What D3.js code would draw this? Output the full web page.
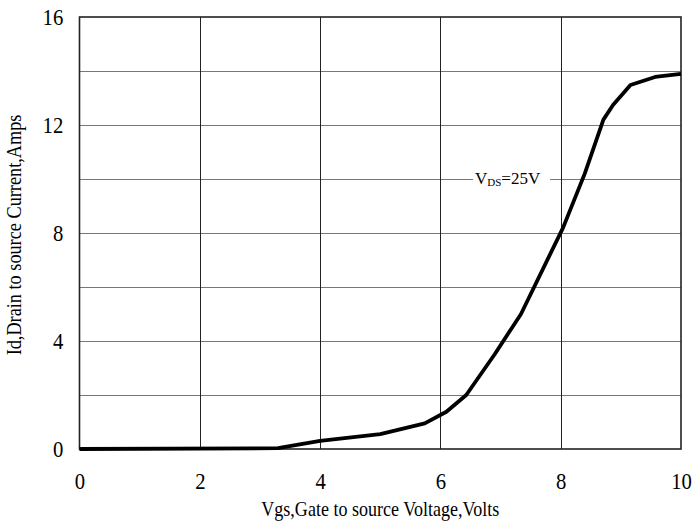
<!DOCTYPE html>
<html><head><meta charset="utf-8">
<script src="https://cdn.jsdelivr.net/npm/d3@7"></script>
<style>body{margin:0;background:#fff}svg{display:block}text{font-family:"Liberation Serif","Times New Roman",serif;fill:#000}</style>
</head><body><svg id="c" width="696" height="524"></svg>
<script>
const vgs = [0, 3.3, 4, 5, 5.74, 6.1, 6.43, 6.9, 7.34, 8.04, 8.4, 8.71, 8.87, 9.16, 9.57, 10];
const id  = [0, 0.03, 0.3, 0.55, 0.95, 1.38, 2.0, 3.5, 5.0, 8.2, 10.2, 12.2, 12.74, 13.48, 13.78, 13.89];
const xTicks = [0, 2, 4, 6, 8, 10];
const yTicks = [0, 4, 8, 12, 16];
const yGrid = [2, 4, 6, 8, 10, 12, 14];
const xTitle = "Vgs,Gate to source Voltage,Volts";
const yTitle = "Id,Drain to source Current,Amps";

const svg = d3.select("#c");
const L = 79.5, R = 681, T = 17, B = 449;
const x = d3.scaleLinear().domain([0, 10]).range([L, R]);
const y = d3.scaleLinear().domain([0, 16]).range([B, T]);

// grid
svg.append("g").selectAll("line").data(yGrid).join("line")
  .attr("x1", L).attr("x2", R).attr("y1", d => Math.round(y(d)) + 0.5).attr("y2", d => Math.round(y(d)) + 0.5)
  .attr("stroke", "#777").attr("stroke-width", 1.2);
svg.append("g").selectAll("line").data(xTicks.slice(1, -1)).join("line")
  .attr("y1", T).attr("y2", B).attr("x1", d => Math.round(x(d)) + 0.5).attr("x2", d => Math.round(x(d)) + 0.5)
  .attr("stroke", "#222").attr("stroke-width", 1);
// frame
svg.append("rect").attr("x", L).attr("y", T).attr("width", R - L).attr("height", B - T)
  .attr("fill", "none").attr("stroke", "#222").attr("stroke-width", 1.6);

// axes
const tickFS = 23, tickSX = 0.9;
const xa = svg.append("g").attr("transform", `translate(0,${B})`)
  .call(d3.axisBottom(x).tickValues(xTicks).tickSize(0).tickFormat(d3.format("d")));
xa.selectAll("text").attr("y", 40).attr("dy", null).attr("transform", `scale(${tickSX},1)`);
const ya = svg.append("g").attr("transform", `translate(${L},0)`)
  .call(d3.axisLeft(y).tickValues(yTicks).tickSize(0).tickFormat(d3.format("d")));
ya.selectAll("text").attr("x", -16.2 / tickSX).attr("y", 7).attr("dy", null).attr("transform", `scale(${tickSX},1)`);
[xa, ya].forEach(a => {
  a.select(".domain").remove();
  a.selectAll("text").style("font-size", tickFS + "px").style("font-family", "Liberation Serif").attr("fill", "#000");
});

// curve
svg.append("path").datum(vgs.map((v, i) => [v, id[i]]))
  .attr("d", d3.line().x(d => x(d[0])).y(d => y(d[1])))
  .attr("fill", "none").attr("stroke", "#000").attr("stroke-width", 3.8).attr("stroke-linejoin", "round");

// annotation
svg.append("rect").attr("x", 473).attr("y", 168).attr("width", 77).attr("height", 20).attr("fill", "#fff");
const ann = svg.append("text").attr("x", 475).attr("y", 183.5).style("font-size", "17px");
ann.append("tspan").text("V");
ann.append("tspan").attr("dy", 2).style("font-size", "11px").text("DS");
ann.append("tspan").attr("dy", -2).text("=25V");

// titles
const titleFS = 22;
svg.append("text").attr("transform", `translate(${(L + R) / 2},516) scale(0.82,1)`)
  .attr("text-anchor", "middle").style("font-size", titleFS + "px").text(xTitle);
svg.append("text").attr("transform", `translate(20.5,235) rotate(-90) scale(0.83,1)`)
  .attr("text-anchor", "middle").style("font-size", titleFS + "px").text(yTitle);
</script></body></html>
